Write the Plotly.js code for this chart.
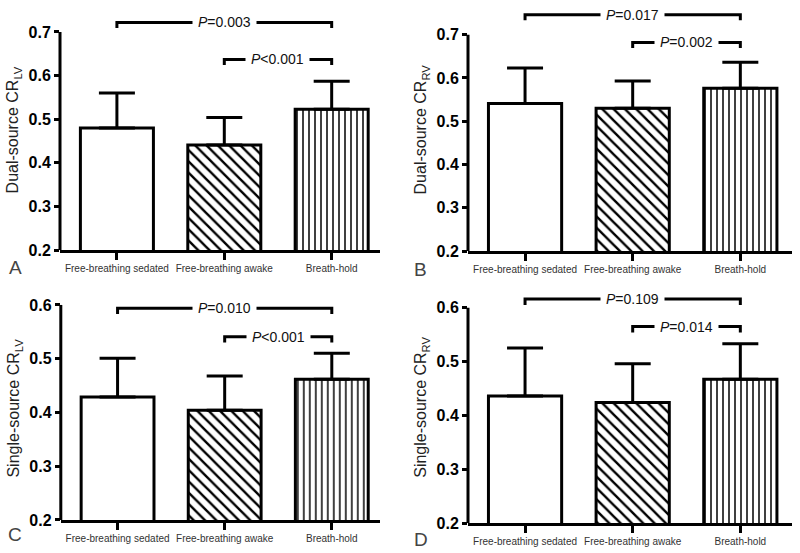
<!DOCTYPE html>
<html>
<head>
<meta charset="utf-8">
<script src="https://cdn.plot.ly/plotly-3.0.1.min.js"></script>
<style>html,body{margin:0;padding:0;background:#fff;}#chart{width:800px;height:553px;}</style>
</head>
<body>
<div id="chart"></div>
<script>
// ---- data ----
const categories = ['Free-breathing sedated', 'Free-breathing awake', 'Breath-hold'];

const meanA = [0.480, 0.441, 0.523];   // Dual-source CR LV
const errA  = [0.080, 0.063, 0.064];
const meanB = [0.541, 0.530, 0.576];   // Dual-source CR RV
const errB  = [0.082, 0.063, 0.060];
const meanC = [0.429, 0.404, 0.462];   // Single-source CR LV
const errC  = [0.072, 0.064, 0.048];
const meanD = [0.436, 0.424, 0.467];   // Single-source CR RV
const errD  = [0.089, 0.072, 0.066];

const titleA = 'Dual-source CR<sub>LV</sub>';
const titleB = 'Dual-source CR<sub>RV</sub>';
const titleC = 'Single-source CR<sub>LV</sub>';
const titleD = 'Single-source CR<sub>RV</sub>';

const tickValsTop = [0.2, 0.3, 0.4, 0.5, 0.6, 0.7];
const tickValsBottom = [0.2, 0.3, 0.4, 0.5, 0.6];

// brackets: [fromIndex, toIndex, level, label]
const bracketsA = [[0, 2, 0.722, '<i>P</i>=0.003'], [1, 2, 0.637, '<i>P</i>&lt;0.001']];
const bracketsB = [[0, 2, 0.746, '<i>P</i>=0.017'], [1, 2, 0.682, '<i>P</i>=0.002']];
const bracketsC = [[0, 2, 0.594, '<i>P</i>=0.010'], [1, 2, 0.541, '<i>P</i>&lt;0.001']];
const bracketsD = [[0, 2, 0.616, '<i>P</i>=0.109'], [1, 2, 0.565, '<i>P</i>=0.014']];

const panelLetters = ['A', 'B', 'C', 'D'];

// ---- styling / layout ----
const FONT = 'Liberation Sans, Arial, sans-serif';
const panels = [
  {mean: meanA, err: errA, title: titleA, ticks: tickValsTop, brackets: bracketsA, xr: [-0.53, 2.45], yr: [0.2, 0.75], xd: [0.075, 0.475], yd: [0.5479, 0.9816], axTop: 0.7, leg: 0.013, letter: [0.019, 0.517]},
  {mean: meanB, err: errB, title: titleB, ticks: tickValsTop, brackets: bracketsB, xr: [-0.53, 2.48], yr: [0.2, 0.76], xd: [0.585, 0.99], yd: [0.5461, 0.9843], axTop: 0.7, leg: 0.013, letter: [0.525, 0.512]},
  {mean: meanC, err: errC, title: titleC, ticks: tickValsBottom, brackets: bracketsC, xr: [-0.53, 2.45], yr: [0.2, 0.615], xd: [0.076, 0.475], yd: [0.0597, 0.4631], axTop: 0.6, leg: 0.011, letter: [0.019, 0.033]},
  {mean: meanD, err: errD, title: titleD, ticks: tickValsBottom, brackets: bracketsD, xr: [-0.53, 2.48], yr: [0.2, 0.63], xd: [0.585, 0.99], yd: [0.0537, 0.4729], axTop: 0.6, leg: 0.011, letter: [0.526, 0.024]}
];

const patterns = [
  {shape: '', size: 8, solidity: 0.3},
  {shape: '\\', size: 8, solidity: 0.3},
  {shape: '|', size: 6, solidity: 0.25}
];

const traces = [];
const shapes = [];
const annotations = [];
const layout = {
  width: 800, height: 553,
  margin: {l: 0, r: 0, t: 0, b: 0},
  paper_bgcolor: '#fff', plot_bgcolor: 'rgba(0,0,0,0)',
  showlegend: false,
  font: {family: FONT, color: '#111'},
  bargap: 0
};

panels.forEach((p, i) => {
  const n = i === 0 ? '' : String(i + 1);
  const xa = 'x' + n, ya = 'y' + n;
  traces.push({
    type: 'bar', x: [0, 1, 2], y: p.mean, base: 0,
    xaxis: xa, yaxis: ya, width: 0.68,
    marker: {color: '#fff', line: {color: '#000', width: 3}, pattern: {
      shape: patterns.map(q => q.shape), size: patterns.map(q => q.size),
      solidity: patterns.map(q => q.solidity), fgcolor: '#000', bgcolor: '#fff', fillmode: 'replace'}},
    error_y: {type: 'data', symmetric: false, array: p.err, arrayminus: p.err.map(() => 0),
      color: '#000', thickness: 3, width: 18},
    hoverinfo: 'skip'
  });
  layout['xaxis' + n] = {
    domain: p.xd, anchor: ya, range: p.xr,
    tickvals: [0, 1, 2], ticktext: categories, tickangle: 0,
    tickfont: {family: FONT, size: 10, color: '#333'},
    ticks: 'outside', ticklen: 7, tickwidth: 3, tickcolor: '#000',
    showline: true, linewidth: 3, linecolor: '#000',
    showgrid: false, zeroline: false, fixedrange: true, automargin: false
  };
  layout['yaxis' + n] = {
    domain: p.yd, anchor: xa, range: p.yr,
    tickvals: p.ticks, ticktext: p.ticks.map(v => v.toFixed(1)),
    tickfont: {family: FONT, size: 16, color: '#000', weight: 'bold'},
    ticks: 'outside', ticklen: 5, tickwidth: 3, tickcolor: '#000',
    showline: false, showgrid: false, zeroline: false, fixedrange: true, automargin: false,
    title: {text: p.title, font: {family: FONT, size: 16, color: '#222'}, standoff: 5}
  };
  // y axis line up to top tick
  shapes.push({type: 'line', xref: 'paper', yref: ya, x0: p.xd[0], x1: p.xd[0], y0: p.yr[0], y1: p.axTop,
    line: {color: '#000', width: 3}});
  // brackets
  p.brackets.forEach(b => {
    const [a, c, lvl, label] = b;
    shapes.push({type: 'path', xref: xa, yref: ya,
      path: `M ${a},${lvl - p.leg} L ${a},${lvl} L ${c},${lvl} L ${c},${lvl - p.leg}`,
      line: {color: '#000', width: 3}});
    annotations.push({xref: xa, yref: ya, x: (a + c) / 2, y: lvl, text: label, showarrow: false,
      xanchor: 'center', yanchor: 'middle', bgcolor: '#fff', borderpad: 5,
      font: {family: FONT, size: 14, color: '#111'}});
  });
  annotations.push({xref: 'paper', yref: 'paper', x: p.letter[0], y: p.letter[1], text: panelLetters[i],
    showarrow: false, xanchor: 'center', yanchor: 'middle', font: {family: FONT, size: 19, color: '#444'}});
});

layout.shapes = shapes;
layout.annotations = annotations;

Plotly.newPlot('chart', traces, layout, {displayModeBar: false, staticPlot: true});
</script>
</body>
</html>
